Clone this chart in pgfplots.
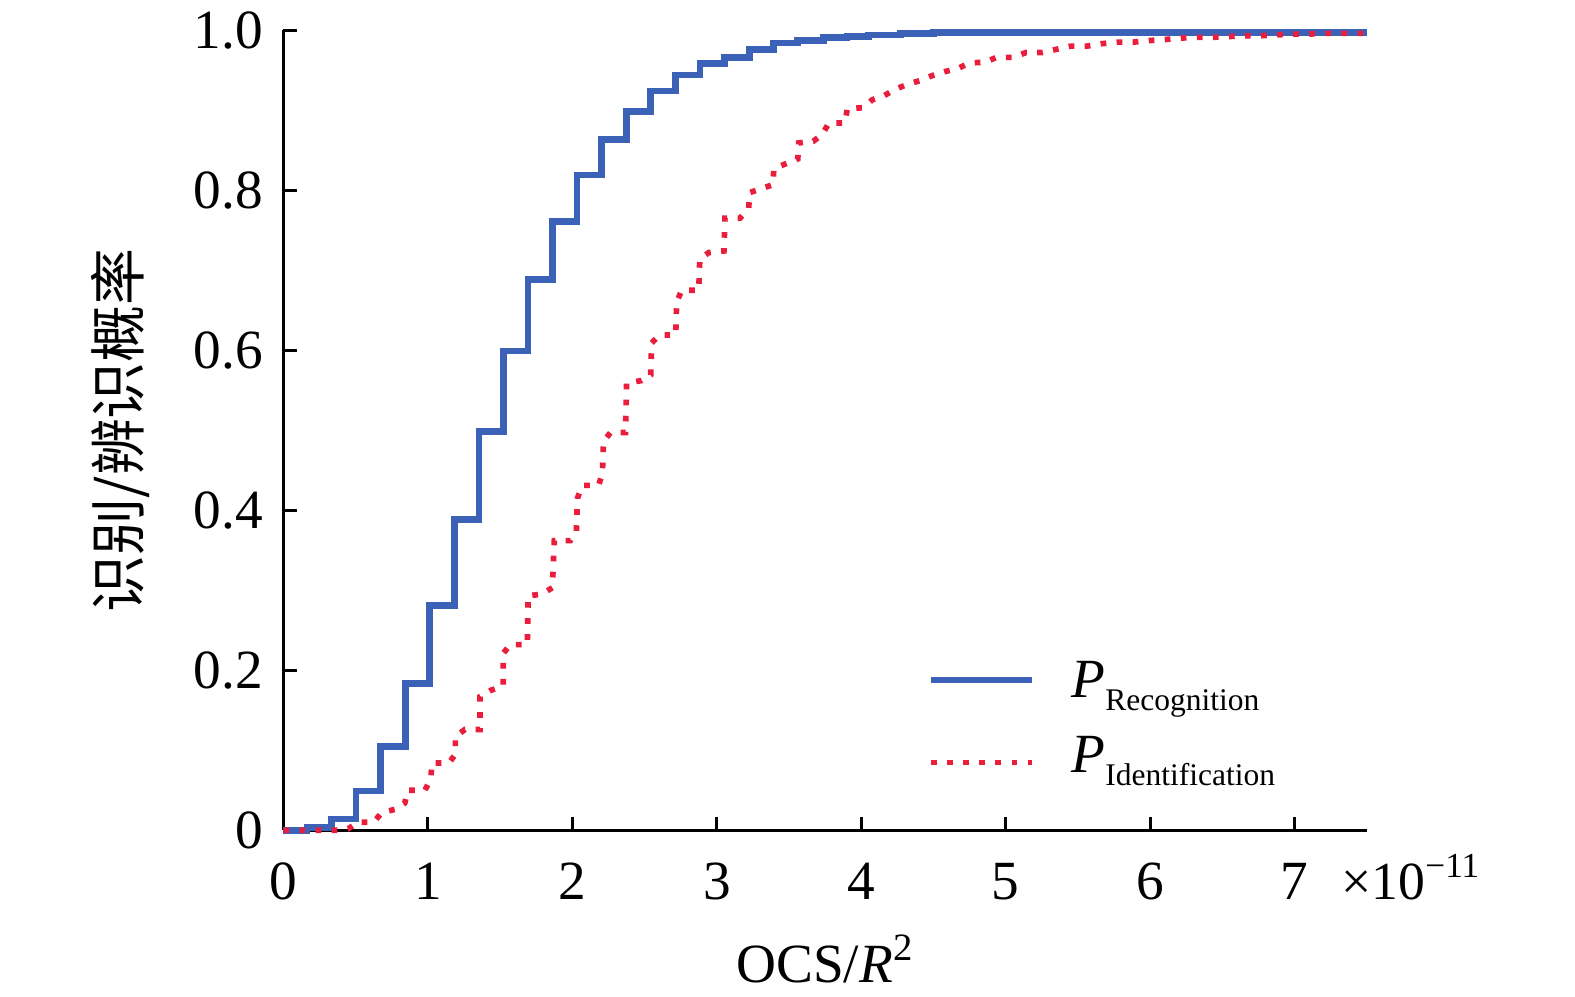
\documentclass[border=0pt]{standalone}
\usepackage{fontspec}
\setmainfont{Liberation Serif}
\newfontfamily\cjk{Noto Sans CJK SC}
\usepackage{pgfplots}
\pgfplotsset{compat=1.18}
\definecolor{cblue}{RGB}{60,98,184}
\definecolor{cred}{RGB}{232,30,60}
\pgfplotsset{
  bluelegend/.style={legend image code/.code={\draw[##1, line width=1.8pt] (0pt,5.1pt) -- (30pt,5.1pt);}},
  redlegend/.style={legend image code/.code={\draw[##1] (0pt,3pt) -- (30pt,3pt);}},
}
\newcommand{\subtxt}[1]{\raisebox{-3.9pt}{\fontsize{9.4}{9.4}\selectfont #1}}
\begin{document}
\begin{tikzpicture}
\begin{axis}[
  at={(0,0)}, anchor=south west,
  scale only axis, width=323.4pt, height=238.8pt,
  xmin=0, xmax=7.5, ymin=0, ymax=1,
  clip=false,
  axis x line*=bottom, axis y line*=left,
  axis line style={line width=0.9pt, black},
  tick align=inside, major tick length=4pt,
  tick style={line width=0.9pt, black},
  xtick={0,1,2,3,4,5,6,7}, xticklabels={0,1,2,3,4,5,6,7},
  ytick={0,0.2,0.4,0.6,0.8,1}, yticklabels={0,0.2,0.4,0.6,0.8,1.0},
  /pgf/number format/assume math mode=true,
  tick label style={font=\fontsize{16.5}{16.5}\selectfont, inner sep=0pt},
  xticklabel style={anchor=base, yshift=-20.7pt},
  yticklabel style={anchor=east, xshift=-6pt},
  xlabel={OCS/\textit{R}\textsuperscript{2}},
  xlabel style={at={([yshift=-45.3pt]axis description cs:0.5,0)}, anchor=base, inner sep=0pt, font=\fontsize{16.5}{16.5}\selectfont},
  ylabel={\cjk 识别/辨识概率},
  ylabel style={at={([xshift=-48.6pt]axis description cs:0,0.5)}, anchor=center, inner sep=0pt, font=\fontsize{17}{17}\selectfont},
  legend style={draw=none, fill=none, inner sep=0pt, at={(axis cs:4.458,0.2173)}, anchor=north west,
    column sep=11pt, row sep=4.5pt, cells={anchor=base west},
    nodes={inner sep=0pt, text height=12pt, text depth=6pt},
    font=\fontsize{16.5}{16.5}\selectfont},
]
\addplot[cblue, line width=2pt, const plot, bluelegend]
coordinates {
(0,0) (0.163,0.003) (0.333,0.014) (0.503,0.049) (0.673,0.105) (0.843,0.183)
(1.013,0.281) (1.183,0.388) (1.353,0.498) (1.523,0.599) (1.693,0.688) (1.863,0.761)
(2.033,0.819) (2.203,0.863) (2.373,0.898) (2.543,0.924) (2.713,0.944) (2.883,0.958)
(3.053,0.966) (3.227,0.976) (3.39,0.984) (3.56,0.987) (3.74,0.991) (3.90,0.992)
(4.05,0.994) (4.27,0.996) (4.5,0.997) (7.5,0.997)
};
\addlegendentry{{\itshape P}\subtxt{Recognition}}
\addplot[cred, line width=1.7pt, dash pattern=on 1.7pt off 3.1pt, redlegend]
coordinates {
(0,0) (0.40,0.0) (0.45,0.002) (0.514,0.010) (0.625,0.010) (0.68,0.022) (0.77,0.026)
(0.84,0.034) (0.861,0.050) (0.979,0.050) (1.02,0.064) (1.028,0.084) (1.146,0.084)
(1.19,0.095) (1.19,0.117) (1.257,0.126) (1.361,0.126) (1.361,0.167) (1.437,0.175)
(1.521,0.180) (1.521,0.221) (1.57,0.232) (1.688,0.232) (1.694,0.293) (1.785,0.295)
(1.861,0.303) (1.875,0.362) (1.986,0.362) (2.028,0.374) (2.035,0.415) (2.069,0.431)
(2.181,0.431) (2.208,0.446) (2.215,0.486) (2.264,0.497) (2.368,0.497) (2.375,0.559)
(2.479,0.562) (2.542,0.569) (2.549,0.609) (2.604,0.619) (2.715,0.619) (2.722,0.66)
(2.757,0.675) (2.875,0.675) (2.882,0.714) (2.944,0.722) (3.049,0.724) (3.056,0.765)
(3.16,0.765) (3.22,0.777) (3.227,0.797) (3.31,0.802) (3.39,0.807) (3.394,0.827)
(3.477,0.833) (3.56,0.839) (3.567,0.859) (3.667,0.861) (3.731,0.870) (3.776,0.884)
(3.887,0.884) (3.903,0.902) (4.014,0.903) (4.076,0.913) (4.157,0.918) (4.234,0.926)
(4.315,0.932) (4.407,0.937) (4.488,0.943) (4.574,0.948) (4.667,0.952) (4.748,0.959)
(4.859,0.960) (4.935,0.966) (5.05,0.966) (5.14,0.972) (5.25,0.972) (5.35,0.976)
(5.45,0.980) (5.56,0.980) (5.66,0.983) (5.77,0.985) (5.88,0.985) (5.99,0.987)
(6.09,0.988) (6.20,0.990) (6.31,0.991) (6.43,0.991) (6.54,0.992) (6.65,0.993)
(6.76,0.993) (6.86,0.994) (6.98,0.995) (7.09,0.995) (7.20,0.996) (7.5,0.996)
};
\addlegendentry{{\itshape P}\subtxt{Identification}}
\node[anchor=base west, inner sep=0pt, font=\fontsize{16}{16}\selectfont] at ([yshift=-20.7pt]axis cs:7.32,0) {×10\raisebox{6.5pt}{\fontsize{10.5}{10.5}\selectfont −11}};
\end{axis}
\pgfresetboundingbox
\useasboundingbox (-84.6pt,-49.5pt) rectangle (385.5pt,247.8pt);
\end{tikzpicture}
\end{document}
